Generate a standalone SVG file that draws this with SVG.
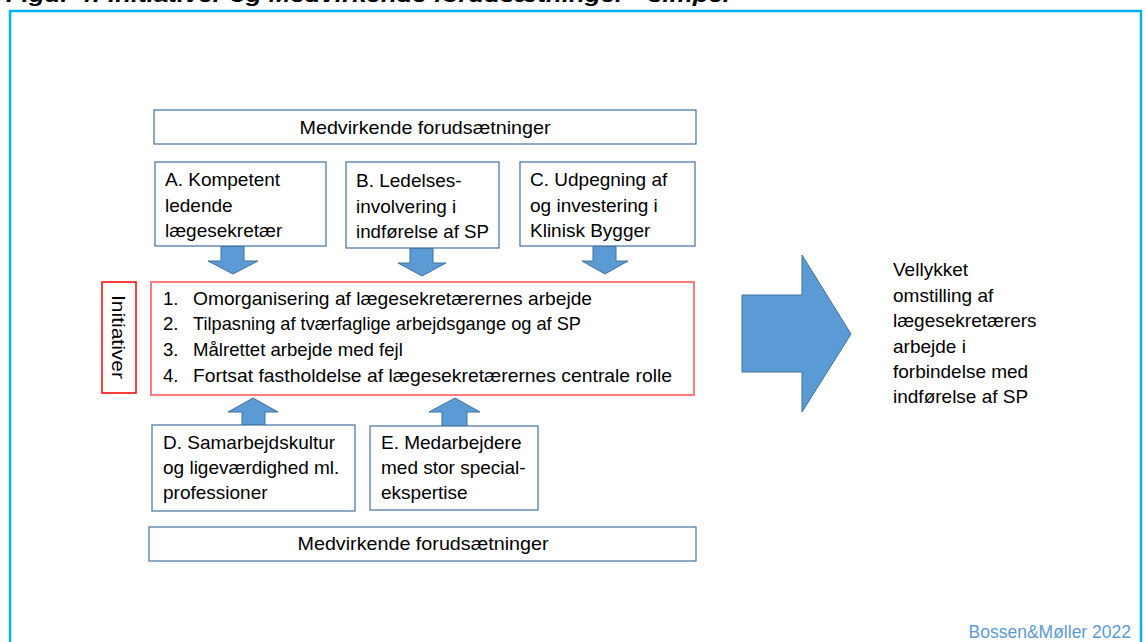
<svg xmlns="http://www.w3.org/2000/svg" width="1146" height="642" viewBox="0 0 1146 642">
<style>
text{font-family:"Liberation Sans",Arial,sans-serif;fill:#000;font-size:19px}
.box{fill:#fff;stroke:#41719C;stroke-width:1.2}
.arr{fill:#5B9BD5;stroke:#41719C;stroke-width:1}
.mid{text-anchor:middle}
.li{font-size:18.6px}
.title{font-weight:bold;font-style:italic;font-size:20px}
.credit{font-size:17.5px;fill:#5B9BD5;text-anchor:end}
</style>
<rect width="1146" height="642" fill="#fff"/>
<text class="title" x="6" y="2" textLength="724" lengthAdjust="spacingAndGlyphs">Figur 4: Initiativer og Medvirkende forudsætninger - simpel</text>
<rect x="10" y="11" width="1131" height="640" fill="none" stroke="#00B0F0" stroke-width="2.5"/>

<g id="connectors">
<polygon class="arr" points="221,246 244,246 244,261 258,261 233,274 208,261 221,261"/>
<polygon class="arr" points="410,248 433,248 433,263 446,263 422,276 398,263 410,263"/>
<polygon class="arr" points="593,246 616,246 616,261 628,261 605,274 582,261 593,261"/>
<polygon class="arr" points="242,425 265,425 265,412 278,412 253,398 228,412 242,412"/>
<polygon class="arr" points="442,427 467,427 467,412 480,412 455,398 429,412 442,412"/>
<polygon class="arr" points="742,295 802,295 802,255 851,334 802,412 802,372 742,372"/>
</g>

<g id="top-prereq">
<rect class="box" x="154" y="110" width="542" height="34"/>
<text class="mid" x="425" y="134" textLength="251" lengthAdjust="spacingAndGlyphs">Medvirkende forudsætninger</text>
</g>
<g id="node-A">
<rect class="box" x="155" y="162" width="171" height="84"/>
<text x="165" y="186">A. Kompetent</text>
<text x="165" y="212">ledende</text>
<text x="165" y="237">lægesekretær</text>
</g>
<g id="node-B">
<rect class="box" x="346" y="162" width="153" height="86"/>
<text x="356" y="187">B. Ledelses-</text>
<text x="356" y="213">involvering i</text>
<text x="356" y="238" textLength="133" lengthAdjust="spacingAndGlyphs">indførelse af SP</text>
</g>
<g id="node-C">
<rect class="box" x="520" y="162" width="175" height="84"/>
<text x="530" y="186">C. Udpegning af</text>
<text x="530" y="212">og investering i</text>
<text x="530" y="237">Klinisk Bygger</text>
</g>
<g id="initiativer-label">
<rect x="102" y="282" width="34" height="111" fill="#fff" stroke="#FF0000" stroke-width="1.5"/>
<text class="mid" transform="translate(112,337) rotate(90)" textLength="84" lengthAdjust="spacingAndGlyphs">Initiativer</text>
</g>
<g id="initiatives">
<rect x="151" y="282" width="543" height="113" fill="#fff" stroke="#FF6F6F" stroke-width="1.8"/>
<text class="li" x="163" y="305">1.</text><text class="li" x="193" y="305" textLength="399" lengthAdjust="spacingAndGlyphs">Omorganisering af lægesekretærernes arbejde</text>
<text class="li" x="163" y="330">2.</text><text class="li" x="193" y="330" textLength="388" lengthAdjust="spacingAndGlyphs">Tilpasning af tværfaglige arbejdsgange og af SP</text>
<text class="li" x="163" y="356">3.</text><text class="li" x="193" y="356">Målrettet arbejde med fejl</text>
<text class="li" x="163" y="382">4.</text><text class="li" x="193" y="382" textLength="479" lengthAdjust="spacingAndGlyphs">Fortsat fastholdelse af lægesekretærernes centrale rolle</text>
</g>
<g id="node-D">
<rect class="box" x="152" y="425" width="203" height="86"/>
<text x="163" y="449">D. Samarbejdskultur</text>
<text x="163" y="474">og ligeværdighed ml.</text>
<text x="163" y="499">professioner</text>
</g>
<g id="node-E">
<rect class="box" x="370" y="426" width="168" height="84"/>
<text x="381" y="449">E. Medarbejdere</text>
<text x="381" y="474">med stor special-</text>
<text x="381" y="499">ekspertise</text>
</g>
<g id="bottom-prereq">
<rect class="box" x="149" y="527" width="547" height="34"/>
<text class="mid" x="423" y="550" textLength="251" lengthAdjust="spacingAndGlyphs">Medvirkende forudsætninger</text>
</g>
<g id="outcome">
<text x="893" y="276">Vellykket</text>
<text x="893" y="302">omstilling af</text>
<text x="893" y="327">lægesekretærers</text>
<text x="893" y="353">arbejde i</text>
<text x="893" y="378">forbindelse med</text>
<text x="893" y="403">indførelse af SP</text>
</g>
<text class="credit" x="1131" y="638">Bossen&amp;Møller 2022</text>
</svg>
